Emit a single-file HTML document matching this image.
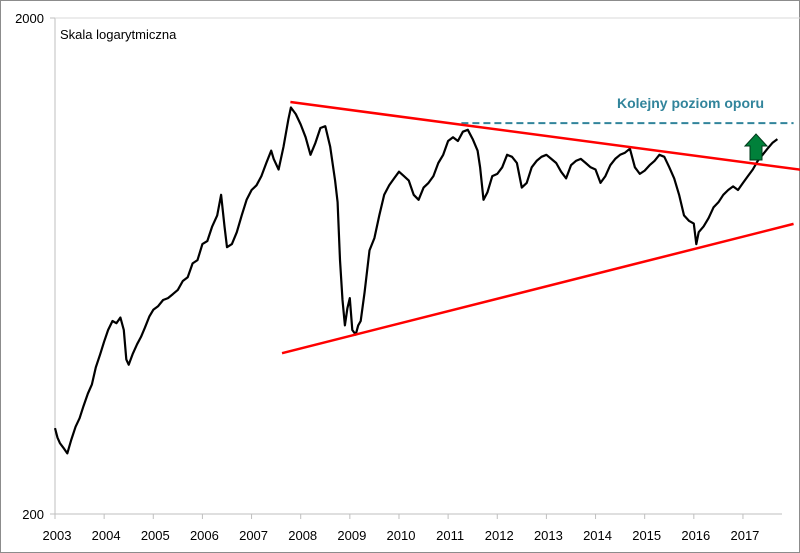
<!DOCTYPE html>
<html><head><meta charset="utf-8"><style>
html,body{margin:0;padding:0;background:#fff;}
svg{display:block;font-family:"Liberation Sans",sans-serif;}
</style></head><body>
<svg id="chart" width="800" height="553" viewBox="0 0 800 553">
<rect x="0.5" y="0.5" width="799" height="552" fill="#fff" stroke="#8c8c8c"/>
<g id="axes"></g>
<g id="marks"></g>
<text x="60" y="39" font-size="13" fill="#000">Skala logarytmiczna</text>
<text x="617" y="108" font-size="14" font-weight="bold" fill="#31849B">Kolejny poziom oporu</text>
<polygon points="750,160 762,160 762,146 767,146 756,134 745,146 750,146" fill="#00803a" stroke="#003a1a" stroke-width="1"/>
</svg>
<script>
const years=[2003,2004,2005,2006,2007,2008,2009,2010,2011,2012,2013,2014,2015,2016,2017];
const yTicks=[200,2000];
const dates=[2003.0,2003.05,2003.1,2003.17,2003.25,2003.33,2003.42,2003.5,2003.58,2003.67,2003.75,2003.83,2003.92,2004.0,2004.08,2004.17,2004.25,2004.33,2004.4,2004.45,2004.5,2004.58,2004.67,2004.75,2004.83,2004.92,2005.0,2005.1,2005.2,2005.3,2005.4,2005.5,2005.6,2005.7,2005.8,2005.9,2006.0,2006.1,2006.2,2006.3,2006.38,2006.45,2006.5,2006.6,2006.7,2006.8,2006.9,2007.0,2007.1,2007.2,2007.3,2007.4,2007.45,2007.55,2007.65,2007.75,2007.8,2007.9,2008.0,2008.1,2008.2,2008.3,2008.4,2008.5,2008.6,2008.7,2008.75,2008.8,2008.85,2008.9,2008.95,2009.0,2009.05,2009.12,2009.17,2009.22,2009.3,2009.4,2009.5,2009.6,2009.7,2009.8,2009.9,2010.0,2010.1,2010.2,2010.3,2010.4,2010.5,2010.6,2010.7,2010.8,2010.9,2011.0,2011.1,2011.2,2011.3,2011.4,2011.5,2011.6,2011.65,2011.72,2011.8,2011.9,2012.0,2012.1,2012.2,2012.3,2012.4,2012.5,2012.6,2012.7,2012.8,2012.9,2013.0,2013.1,2013.2,2013.3,2013.4,2013.5,2013.6,2013.7,2013.8,2013.9,2014.0,2014.1,2014.2,2014.3,2014.4,2014.5,2014.6,2014.7,2014.8,2014.9,2015.0,2015.1,2015.2,2015.3,2015.4,2015.5,2015.6,2015.7,2015.8,2015.9,2016.0,2016.05,2016.1,2016.2,2016.3,2016.4,2016.5,2016.6,2016.7,2016.8,2016.9,2017.0,2017.1,2017.2,2017.3,2017.4,2017.5,2017.6,2017.7,2017.8];
const values=[298,285,278,272,265,282,300,312,330,350,365,395,420,445,470,490,485,498,470,410,400,420,440,455,475,500,516,525,540,545,555,566,590,600,640,650,700,710,760,800,880,760,690,700,740,800,860,900,920,960,1020,1080,1040,990,1100,1250,1320,1280,1220,1150,1060,1120,1200,1210,1100,940,850,650,540,480,520,545,470,460,480,490,560,680,720,800,880,920,950,980,960,940,880,860,910,930,960,1020,1060,1130,1150,1130,1180,1190,1140,1080,1000,860,890,960,970,1000,1060,1050,1020,910,930,1000,1030,1050,1060,1040,1020,980,950,1010,1030,1040,1020,1000,990,930,960,1010,1040,1060,1070,1090,1000,970,985,1010,1030,1060,1050,1000,950,880,800,780,770,700,740,760,790,830,850,880,900,915,900,930,960,990,1030,1060,1090,1120,1140];
const upperDates=[2007.79,2018.2];const upperValues=[1354,988];
const lowerDates=[2007.62,2018.03];const lowerValues=[422,769];
const resDates=[2011.27,2018.03];const resValues=[1228,1228];
const NS='http://www.w3.org/2000/svg';
const xS=d=>55+(d-2003)*49.14;
const yS=v=>514-496*Math.log10(v/200);
const axes=document.getElementById('axes'),marks=document.getElementById('marks');
function mk(tag,attrs,parent){const e=document.createElementNS(NS,tag);for(const k in attrs)e.setAttribute(k,attrs[k]);parent.appendChild(e);return e;}
let e=mk('line',{x1:55,y1:18,x2:55,y2:514,stroke:'#bfbfbf'},axes);


e=mk('line',{x1:55,y1:514,x2:782,y2:514,stroke:'#bfbfbf'},axes);


yTicks.forEach(v=>{
 const y=yS(v);
 let t=mk('line',{x1:50,y1:y,x2:55,y2:y,stroke:'#bfbfbf'},axes);
 
 
 if(v===2000){let g=mk('line',{x1:55,y1:y,x2:800,y2:y,stroke:'#d9d9d9'},axes);
 
 }
 let l=mk('text',{x:44,y:y+5,'text-anchor':'end','font-size':13},axes);l.textContent=v;
 
 
});
years.forEach(yr=>{
 const x=xS(yr);
 let t=mk('line',{x1:x,y1:514,x2:x,y2:519,stroke:'#bfbfbf'},axes);
 
 
 let l=mk('text',{x:x+2,y:540,'text-anchor':'middle','font-size':13},axes);l.textContent=yr;
 
 
});
let p=mk('line',{x1:xS(resDates[0]),y1:yS(resValues[0]),x2:xS(resDates[1]),y2:yS(resValues[1]),stroke:'#31849B','stroke-width':2,'stroke-dasharray':'7,4'},marks);


let pts=dates.map((d,i)=>xS(d).toFixed(1)+','+yS(values[i]).toFixed(1)).join(' ');
p=mk('polyline',{points:pts,fill:'none',stroke:'#000','stroke-width':2.2,'stroke-linejoin':'round'},marks);


p=mk('line',{x1:xS(upperDates[0]),y1:yS(upperValues[0]),x2:xS(upperDates[1]),y2:yS(upperValues[1]),stroke:'#ff0000','stroke-width':2.5},marks);


p=mk('line',{x1:xS(lowerDates[0]),y1:yS(lowerValues[0]),x2:xS(lowerDates[1]),y2:yS(lowerValues[1]),stroke:'#ff0000','stroke-width':2.5},marks);


</script>
</body></html>
